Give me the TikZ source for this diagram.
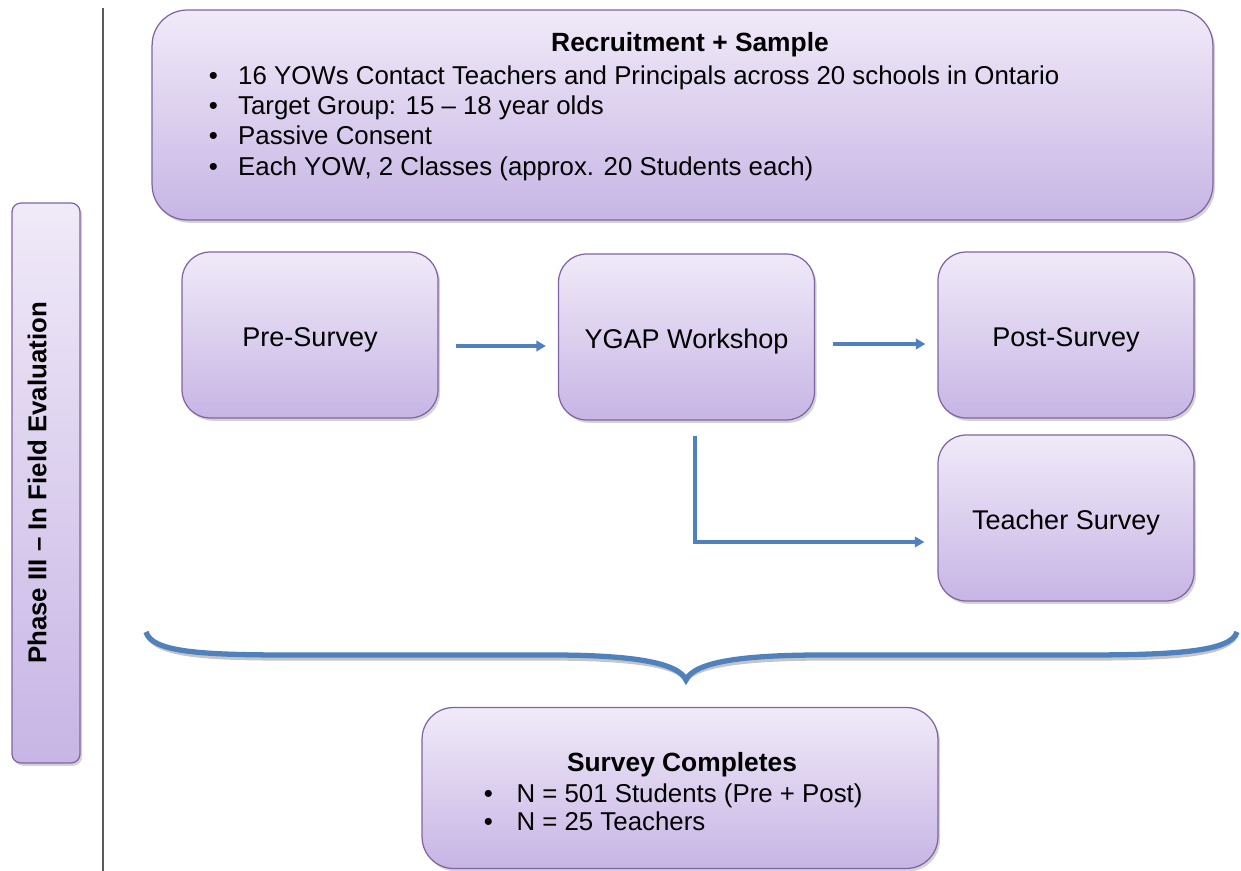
\documentclass[tikz,border=0pt]{standalone}
\usepackage{fontspec}
\setmainfont{Liberation Sans}
\usetikzlibrary{arrows.meta, shadows, calc}
\definecolor{boxtop}{HTML}{F0EAF8}
\definecolor{boxbot}{HTML}{C7B5E5}
\definecolor{boxline}{HTML}{8064A2}
\definecolor{flowblue}{HTML}{4F81BD}
\newcommand{\bul}[1][16.7pt]{\makebox[#1][l]{\textbullet}}

\begin{document}
\begin{tikzpicture}[x=0.02cm, y=-0.02cm,
    stage/.style={draw=boxline, line width=0.7pt, rounded corners=16pt,
      top color=boxtop, bottom color=boxbot,
      drop shadow={shadow xshift=1.2pt, shadow yshift=-1.6pt, opacity=0.35},
      minimum width=5.12cm, minimum height=3.32cm,
      text height=13.4pt, text depth=0pt,
      font=\fontsize{15.4}{18}\selectfont},
    listtext/.style={anchor=base west, inner sep=0pt, font=\fontsize{14.7}{17}\selectfont},
    titletext/.style={anchor=base, inner sep=0pt, font=\fontsize{15}{17}\selectfont\bfseries},
    flow/.style={draw=flowblue, line width=1.8pt, -{Triangle[length=5.5pt,width=6pt]}}]
    \useasboundingbox (0,0) rectangle (1241,871);
    % side bar and rule
    \node[stage, rotate=90, rounded corners=5pt, minimum width=11.2cm, minimum height=1.36cm,
      text height=10pt, text depth=9.5pt,
      font=\fontsize{14.7}{17}\selectfont\bfseries] (phase) at (46,483) {Phase III -- In Field Evaluation};
    \draw[black!65, line width=0.8pt] (103,8) coordinate (rtop) -- (103,871) coordinate (rbot);
    % recruitment box
    \node[stage, rounded corners=20pt, minimum width=21.22cm, minimum height=4.2cm] (recruit) at (682.5,115) {};
    \node[titletext] (rectitle) at (690,52) {Recruitment + Sample};
    \node[listtext] (rec1) at (208.5,85) {\bul 16 YOWs Contact Teachers and Principals across 20 schools in Ontario};
    \node[listtext] (rec2) at (208.5,115) {\bul Target Group: 15 -- 18 year olds};
    \node[listtext] (rec3) at (208.5,145) {\bul Passive Consent};
    \node[listtext] (rec4) at (208.5,176) {\bul Each YOW, 2 Classes (approx. 20 Students each)};
    % survey stages
    \node[stage] (pre) at (310,335) {Pre-Survey};
    \node[stage] (ygap) at (686.5,337) {YGAP Workshop};
    \node[stage] (post) at (1066,335) {Post-Survey};
    \node[stage] (teacher) at (1066,518) {Teacher Survey};
    % arrows
    \draw[flow] ($(pre.east)+(17,11)$) -- ($(ygap.west)+(-12,9)$);
    \draw[flow] ($(ygap.east)+(18,7)$) -- ($(post.west)+(-12,9)$);
    \draw[flow] ($(ygap.south)+(8.5,15)$) |- ($(teacher.west)+(-13,24)$);
    % brace
    \coordinate (bleft) at (146,632);
    \coordinate (btip) at (686,680);
    \coordinate (bright) at (1237,632);
    \draw[black!45, opacity=0.5, line width=3pt, shift={(1.5,3)}]
      (bleft) .. controls (152,652) and (200,655) .. (290,655) -- (550,655)
      .. controls (630,655) and (678,662) .. (btip)
      .. controls (694,662) and (742,655) .. (822,655) -- (1082,655)
      .. controls (1172,655) and (1231,652) .. (bright);
    \draw[flowblue, line width=3pt]
      (bleft) .. controls (152,652) and (200,655) .. (290,655) -- (550,655)
      .. controls (630,655) and (678,662) .. (btip)
      .. controls (694,662) and (742,655) .. (822,655) -- (1082,655)
      .. controls (1172,655) and (1231,652) .. (bright);
    % survey completes box
    \node[stage, rounded corners=18pt, minimum width=10.32cm, minimum height=3.22cm] (done) at (680,788) {};
    \node[titletext] (donetitle) at (682,771) {Survey Completes};
    \node[listtext] (done1) at (483.5,802) {\bul[14.5pt] N = 501 Students (Pre + Post)};
    \node[listtext] (done2) at (483.5,830) {\bul[14.5pt] N = 25 Teachers};
\end{tikzpicture}
\end{document}
